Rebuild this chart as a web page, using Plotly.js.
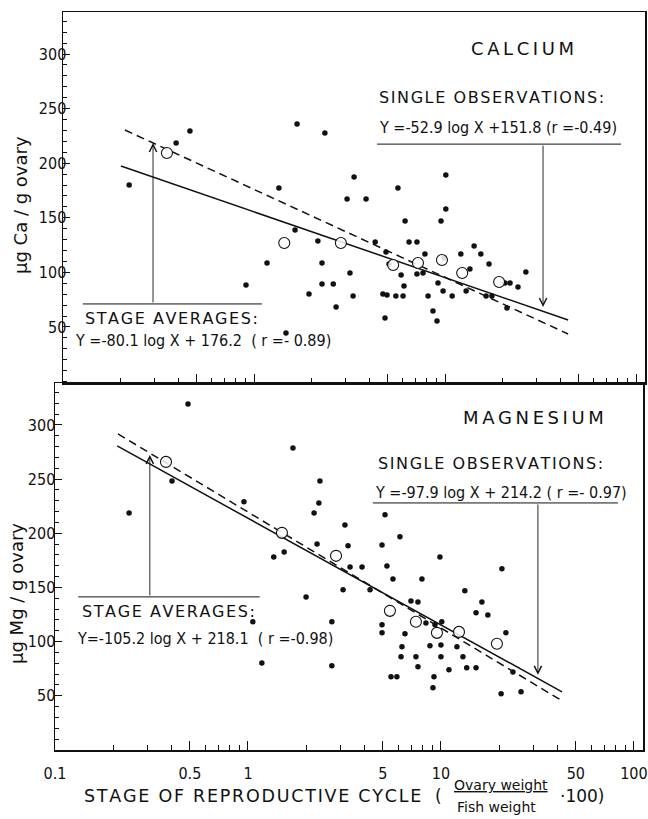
<!DOCTYPE html>
<html>
<head>
<meta charset="utf-8">
<script src="https://cdn.plot.ly/plotly-3.0.1.min.js"></script>
<style>html,body{margin:0;padding:0;background:#fff;}#chart{width:648px;height:819px;}</style>
</head>
<body>
<div id="chart"></div>
<script>
// ---------- DATA ----------
// Calcium, single observations
const caX = [0.222,0.391,0.462,1.68,2.35,1.35,1.64,2.16,2.27,2.27,1.94,1.17,0.908,1.47,
  3.34,3.07,3.86,5.67,10.1,10.1,6.18,9.53,4.31,6.48,7.13,4.91,7.85,9.88,5.09,3.18,5.89,7.13,7.67,9.19,12.1,2.60,3.30,4.73,4.97,5.53,6.03,8.15,9.77,10.9,2.69,8.65,4.85,9.08,6.10,
  14.2,15.4,17.0,13.5,12.9,16.4,17.6,20.6,21.9,24.1,26.5,21.1];
const caY = [180.0,218.5,229.5,235.9,227.7,177.3,138.8,128.8,108.6,89.4,80.2,108.6,88.5,44.5,
  187.4,167.2,167.2,177.3,189.2,158.1,147.1,147.1,127.8,127.8,127.8,118.7,116.8,113.2,107.7,99.5,97.6,98.5,99.5,90.3,116.8,89.4,78.4,80.2,79.3,78.4,78.4,78.4,83.0,78.4,68.3,64.7,58.2,55.5,87.5,
  124.2,116.8,107.7,103.1,83.0,78.4,78.4,90.3,90.3,86.6,100.4,67.4];
// Calcium, stage averages
const caAvgX = [0.350,1.44,2.85,5.35,7.22,9.64,12.3,19.2];
const caAvgY = [209.3,126.9,126.9,106.8,108.6,111.4,99.5,91.2];
// Calcium regression lines (end points as drawn)
const caObsLineX = [0.201,44.1], caObsLineY = [197.4,56.4];
const caAvgLineX = [0.211,44.1], caAvgLineY = [230.4,43.6];
// Calcium label bars and arrows
const caObsBarX = [4.41,83.5], caObsBarY = [217.5,217.5];
const caObsArrowX = [32.6,32.6], caObsArrowY = [217.5,68.3];
const caAvgBarX = [0.127,1.10], caAvgBarY = [71.1,71.1];
const caAvgArrowX = [0.296,0.296], caAvgArrowY = [71.1,218.5];

// Magnesium, single observations
const mgX = [0.489,0.242,0.404,0.953,1.71,2.36,2.33,2.20,2.28,1.36,1.54,2.00,1.06,1.18,3.18,3.30,4.95,5.13,6.13,9.88,
  3.38,3.90,5.25,5.64,7.97,3.11,4.29,6.99,7.60,8.36,9.31,10.1,2.72,4.95,4.95,6.51,6.28,8.77,10.0,6.21,
  7.42,10.0,7.60,11.0,2.72,5.51,5.91,9.20,9.09,20.7,13.3,16.3,15.2,17.5,21.7,12.1,13.0,13.6,15.2,23.6,20.5,26.0];
const mgY = [319.4,218.8,248.3,229.0,278.8,248.3,228.0,218.8,190.2,178.2,182.8,141.3,118.3,80.4,207.7,188.4,189.3,217.0,196.7,178.2,
  169.0,169.0,169.9,157.9,157.9,147.8,147.8,137.6,136.7,117.3,115.5,118.3,118.3,115.5,108.1,107.2,95.2,96.1,97.0,86.0,
  86.0,86.0,76.8,74.0,77.7,67.5,67.5,67.5,57.4,167.2,146.9,136.7,126.6,124.7,108.1,95.2,86.0,75.8,75.8,72.1,51.8,53.7];
// Magnesium, stage averages
const mgAvgX = [0.376,1.50,2.86,5.44,7.42,9.53,12.4,19.5];
const mgAvgY = [265.9,200.4,179.2,128.4,118.3,108.1,109.0,98.0];
// Magnesium regression lines
const mgObsLineX = [0.210,42.4], mgObsLineY = [280.6,53.7];
const mgAvgLineX = [0.212,42.4], mgAvgLineY = [291.7,45.4];
// Magnesium label bars and arrows
const mgObsBarX = [4.44,82.6], mgObsBarY = [228,228];
const mgObsArrowX = [31.8,31.8], mgObsArrowY = [228,69.4];
const mgAvgBarX = [0.132,1.15], mgAvgBarY = [141.3,141.3];
const mgAvgArrowX = [0.31,0.31], mgAvgArrowY = [141.3,272.3];

// Ticks
const xMajorVals = [0.1,0.5,1,5,10,50,100];
const xMajorText = ['0.1','0.5','1','5','10','50','100'];
const xMinorVals = [0.2,0.3,0.4,0.6,0.7,0.8,0.9,2,3,4,6,7,8,9,20,30,40,60,70,80,90];
const yMajorVals = [50,100,150,200,250,300];

// ---------- helpers ----------
const W = 648, H = 819, ML = 55, MR = 3, MT = 12, MB = 69;
const PW = W - ML - MR, PH = H - MT - MB;
const pxX = p => (p - ML) / PW;
const pxY = p => (H - MB - p) / PH;
const sp = (s, ch) => s.split('').join(ch);
const TICKFONT = {family: '"DejaVu Sans Condensed", "Liberation Sans Narrow", "Roboto Condensed", Arial, sans-serif', size: 16, color: '#111'};
const TXT = '"DejaVu Sans", "Liberation Sans", Arial, sans-serif';
const NARROW = '"DejaVu Sans Condensed", "Liberation Sans Narrow", Arial, sans-serif';

function dots(x, y, xa, ya) {
  return {x, y, xaxis: xa, yaxis: ya, type: 'scatter', mode: 'markers',
    marker: {size: 5.5, color: '#111'}, hoverinfo: 'skip'};
}
function rings(x, y, xa, ya) {
  return {x, y, xaxis: xa, yaxis: ya, type: 'scatter', mode: 'markers',
    marker: {size: 11, color: 'rgba(255,255,255,0.85)', line: {color: '#111', width: 1.1}}, hoverinfo: 'skip'};
}
function line(x, y, xa, ya, dash, w) {
  return {x, y, xaxis: xa, yaxis: ya, type: 'scatter', mode: 'lines',
    line: {color: '#111', width: w || 1.5, dash: dash || 'solid'}, hoverinfo: 'skip'};
}
function arrow(ax, ay, xr, yr) {
  return {x: Math.log10(ax[1]), y: ay[1], ax: Math.log10(ax[0]), ay: ay[0],
    xref: xr, yref: yr, axref: xr, ayref: yr, text: '', showarrow: true,
    arrowhead: 5, arrowsize: 1.6, arrowwidth: 0.9, arrowcolor: '#111', standoff: 0, startstandoff: 0};
}
function label(text, xpx, ypx, size, anchor, fam, extra) {
  return Object.assign({text, x: pxX(xpx), y: pxY(ypx), xref: 'paper', yref: 'paper',
    xanchor: anchor || 'left', yanchor: 'middle', showarrow: false,
    font: {family: fam || TXT, size: size, color: '#111'}}, extra || {});
}

const traces = [
  // top panel (calcium)
  line(caObsLineX, caObsLineY, 'x2', 'y2', 'solid', 1.5),
  line(caAvgLineX, caAvgLineY, 'x2', 'y2', '8px,5px', 1.5),
  line(caObsBarX, caObsBarY, 'x2', 'y2', 'solid', 1),
  line(caAvgBarX, caAvgBarY, 'x2', 'y2', 'solid', 1),
  dots(caX, caY, 'x2', 'y2'),
  rings(caAvgX, caAvgY, 'x2', 'y2'),
  // bottom panel (magnesium)
  line(mgObsLineX, mgObsLineY, 'x', 'y', 'solid', 1.5),
  line(mgAvgLineX, mgAvgLineY, 'x', 'y', '8px,5px', 1.5),
  line(mgObsBarX, mgObsBarY, 'x', 'y', 'solid', 1),
  line(mgAvgBarX, mgAvgBarY, 'x', 'y', 'solid', 1),
  dots(mgX, mgY, 'x', 'y'),
  rings(mgAvgX, mgAvgY, 'x', 'y')
];

const xBase = {
  type: 'log', range: [-1, 2.047], showgrid: false, zeroline: false,
  showline: true, linecolor: '#111', linewidth: 1.5, mirror: true,
  ticks: 'inside', tickcolor: '#111', ticklen: 9, tickwidth: 1,
  tickmode: 'array', tickvals: xMajorVals, ticktext: xMajorText,
  minor: {tickmode: 'array', tickvals: xMinorVals, ticks: 'inside', ticklen: 5, tickcolor: '#111', tickwidth: 1, showgrid: false},
  tickfont: TICKFONT, fixedrange: true
};
const yBase = {
  showgrid: false, zeroline: false, showline: true, linecolor: '#111', linewidth: 1.5, mirror: true,
  ticks: 'inside', tickcolor: '#111', ticklen: 7, tickwidth: 1,
  tickmode: 'array', tickvals: yMajorVals,
  minor: {tick0: 0, dtick: 10, ticks: 'inside', ticklen: 4, tickcolor: '#111', tickwidth: 1, showgrid: false},
  tickfont: TICKFONT, fixedrange: true
};
const split = (H - MB - 383) / PH;

const layout = {
  width: W, height: H, showlegend: false,
  paper_bgcolor: '#fff', plot_bgcolor: '#fff',
  margin: {l: ML, r: MR, t: MT, b: MB},
  xaxis: Object.assign({}, xBase, {domain: [0, (643 - ML) / PW], anchor: 'y', ticklabelstandoff: 8}),
  yaxis: Object.assign({}, yBase, {domain: [0, split], range: [0, 338.7], anchor: 'x', ticklabelstandoff: -5}),
  xaxis2: Object.assign({}, xBase, {domain: [(63 - ML) / PW, 1], anchor: 'y2', showticklabels: false}),
  yaxis2: Object.assign({}, yBase, {domain: [split, 1], range: [-1.3, 338.5], anchor: 'x2', ticklabelstandoff: -8}),
  annotations: [
    arrow(caObsArrowX, caObsArrowY, 'x2', 'y2'),
    arrow(caAvgArrowX, caAvgArrowY, 'x2', 'y2'),
    arrow(mgObsArrowX, mgObsArrowY, 'x', 'y'),
    arrow(mgAvgArrowX, mgAvgArrowY, 'x', 'y'),
    label(sp('CALCIUM', '\u2009'), 522, 48, 18, 'center'),
    label(sp('SINGLE OBSERVATIONS:', '\u200A'), 377, 97, 16, 'left'),
    label('Y =-52.9 log X +151.8 (r =-0.49)', 377, 128, 16, 'left', NARROW),
    label(sp('STAGE AVERAGES:', '\u200A'), 83, 318, 16, 'left'),
    label('Y =-80.1 log X + 176.2 \u00A0( r =- 0.89)', 73, 340, 16, 'left', NARROW),
    label(sp('MAGNESIUM', '\u2009'), 533, 417, 18, 'center'),
    label(sp('SINGLE OBSERVATIONS:', '\u200A'), 376, 463, 16, 'left'),
    label('Y =-97.9 log X + 214.2 ( r =- 0.97)', 373, 492, 16, 'left', NARROW),
    label(sp('STAGE AVERAGES:', '\u200A'), 80, 611, 16, 'left'),
    label('Y=-105.2 log X + 218.1 \u00A0( r =-0.98)', 75, 638, 16, 'left', NARROW),
    label('\u00B5g Ca / g ovary', 20, 205, 18, 'center', TXT, {textangle: -90}),
    label('\u00B5g Mg / g ovary', 16, 594, 18, 'center', TXT, {textangle: -90}),
    label(sp('STAGE OF REPRODUCTIVE CYCLE', '\u200A'), 82, 796, 17.5, 'left'),
    label('(', 433, 796, 17, 'left'),
    label('<u>Ovary weight</u>', 501, 787, 14, 'center', TXT, {yanchor: 'bottom', y: pxY(795)}),
    label('Fish weight', 496, 805, 14, 'center', TXT, {yanchor: 'top', y: pxY(797)}),
    label('\u00B7100)', 558, 796, 17, 'left')
  ]
};

Plotly.newPlot('chart', traces, layout, {staticPlot: true, displayModeBar: false});
</script>
</body>
</html>
